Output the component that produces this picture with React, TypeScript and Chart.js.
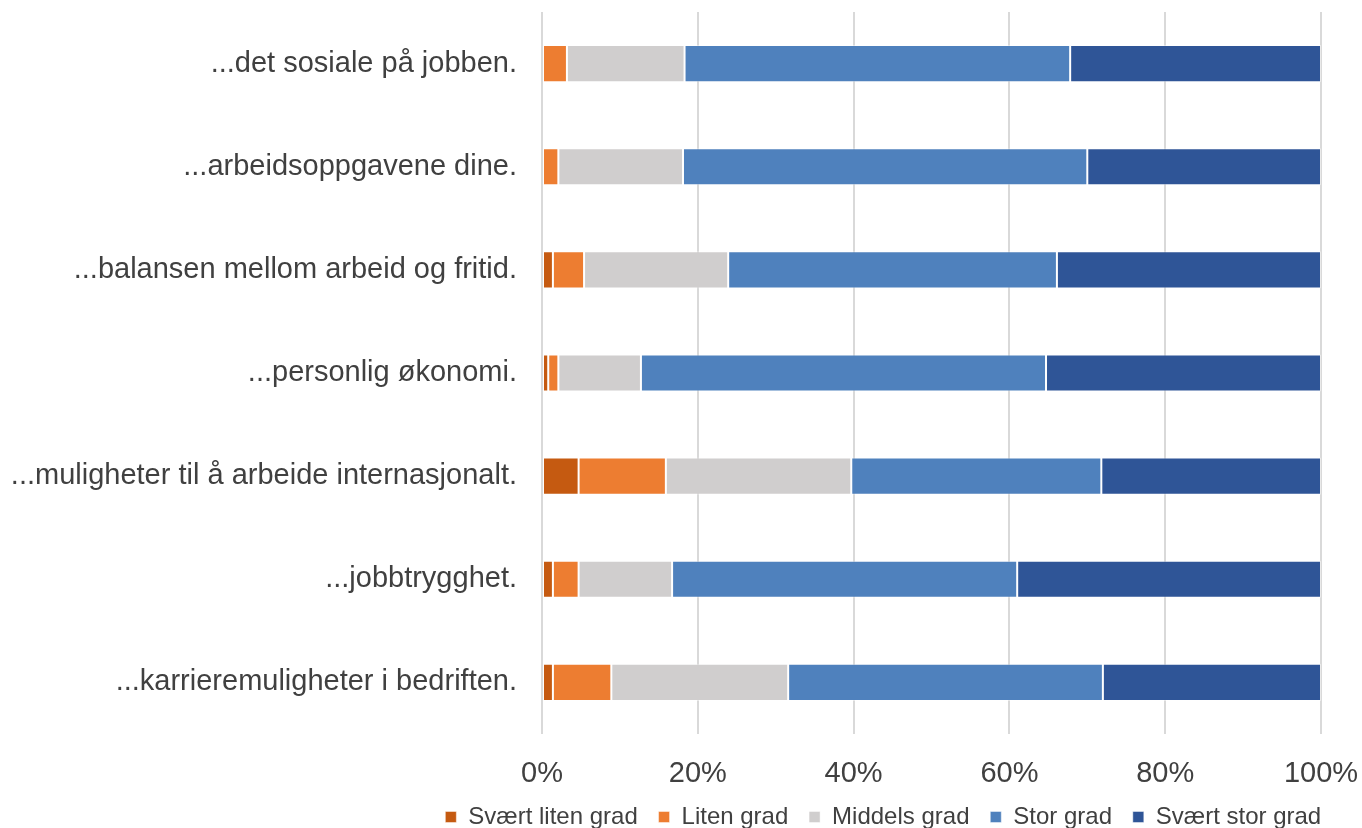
import React, { useEffect, useRef } from "react";
import { Chart, registerables } from "chart.js";

Chart.register(...registerables);

const categories = [
  "...det sosiale på jobben.",
  "...arbeidsoppgavene dine.",
  "...balansen mellom arbeid og fritid.",
  "...personlig økonomi.",
  "...muligheter til å arbeide internasjonalt.",
  "...jobbtrygghet.",
  "...karrieremuligheter i bedriften.",
];

const seriesNames = ["Svært liten grad", "Liten grad", "Middels grad", "Stor grad", "Svært stor grad"];

const svaertLiten = [0, 0, 1.4, 0.8, 4.7, 1.4, 1.4];
const liten = [3.2, 2.1, 4.0, 1.3, 11.2, 3.3, 7.5];
const middels = [15.1, 16.0, 18.5, 10.6, 23.8, 12.0, 22.7];
const stor = [49.5, 51.9, 42.2, 52.0, 32.1, 44.3, 40.4];
const svaertStor = [32.2, 30.0, 33.9, 35.3, 28.2, 39.0, 28.0];

const xTicks = [0, 20, 40, 60, 80, 100];

const colors = ["#C55A11", "#ED7D31", "#D0CECE", "#4F81BD", "#2F5597"];

const FONT = "'Liberation Sans', Arial, sans-serif";
const TEXT = "#404040";

export default function App() {
  const ref = useRef<HTMLCanvasElement | null>(null);

  useEffect(() => {
    if (!ref.current) return;
    const values = [svaertLiten, liten, middels, stor, svaertStor];
    const chart = new Chart(ref.current, {
      type: "bar",
      data: {
        labels: categories,
        datasets: values.map((v, i) => ({
          label: seriesNames[i],
          data: v,
          backgroundColor: colors[i],
          borderColor: "rgba(255,255,255,0.45)",
          borderWidth: 1,
          borderSkipped: false,
          barPercentage: 0.36,
          categoryPercentage: 1,
        })),
      },
      options: {
        indexAxis: "y",
        responsive: false,
        animation: false,
        layout: { padding: { left: 0, right: 20, top: 12, bottom: -11 } },
        scales: {
          x: {
            stacked: true,
            min: 0,
            max: 100,
            afterBuildTicks: (scale: any) => {
              scale.ticks = xTicks.map((v) => ({ value: v }));
            },
            afterFit: (scale: any) => {
              scale.height = 50.2;
              scale.paddingLeft = 0;
              scale.paddingRight = 41;
            },
            grid: { color: "#D9D9D9", lineWidth: 2, drawTicks: false },
            border: { display: false },
            ticks: {
              padding: 23,
              color: TEXT,
              font: { family: FONT, size: 29 },
              callback: (v: any) => v + "%",
            },
          },
          y: {
            stacked: true,
            afterFit: (scale: any) => {
              scale.width = 542;
              scale.paddingTop = 0;
              scale.paddingBottom = 0;
            },
            grid: { display: false, drawTicks: false },
            border: { display: false },
            ticks: {
              padding: 25,
              color: TEXT,
              font: { family: FONT, size: 29 },
            },
          },
        },
        plugins: {
          legend: {
            position: "bottom",
            align: "end",
            labels: {
              boxWidth: 11,
              boxHeight: 11,
              padding: 20.8,
              color: TEXT,
              font: { family: FONT, size: 24 },
            },
          },
          tooltip: { enabled: false },
        },
      },
    });
    return () => chart.destroy();
  }, []);

  return (
    <div style={{ position: "absolute", left: 0, top: 0, width: 1362, height: 828, background: "#fff" }}>
      <canvas ref={ref} width={1362} height={828} style={{ display: "block" }} />
    </div>
  );
}
